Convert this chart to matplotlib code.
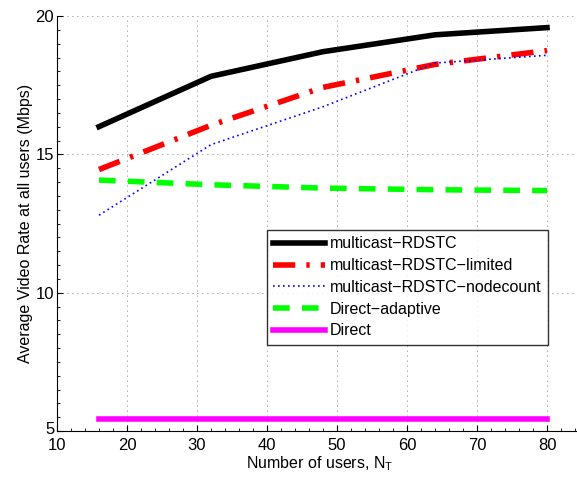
import numpy as np
import matplotlib.pyplot as plt
import matplotlib.transforms as mtransforms
from matplotlib.ticker import MultipleLocator

plt.rcParams['font.family'] = ['Liberation Sans', 'DejaVu Sans']
plt.rcParams['font.size'] = 12

# numero de usuarios
usuarios = [16, 32, 48, 64, 80]

multicast = [16.0, 17.82, 18.71, 19.32, 19.58]
multicastLimited = [14.45, 16.05, 17.42, 18.25, 18.75]
multicastNodecount = [12.8, 15.35, 16.72, 18.3, 18.58]
directAdaptive = [14.07, 13.9, 13.78, 13.72, 13.69]
direct = [5.44, 5.44, 5.44, 5.44, 5.44]

fig = plt.figure(figsize=(5.77, 4.78), dpi=100)
ax = fig.add_axes([57/577, 47/478, 525/577, 415/478])

ax.plot(usuarios, multicast, '-', color='black', lw=4, label='multicast\u2212RDSTC')
ax.plot(usuarios, multicastLimited, color='red', lw=4, dashes=(4, 2, 0.6, 2),
        label='multicast\u2212RDSTC\u2212limited')
ax.plot(usuarios, multicastNodecount, color='blue', lw=1.2, dashes=(1, 2),
        label='multicast\u2212RDSTC\u2212nodecount')
ax.plot(usuarios, directAdaptive, color='#00ff00', lw=4, dashes=(3, 2.2),
        label='Direct\u2212adaptive')
ax.plot(usuarios, direct, '-', color='magenta', lw=4, label='Direct')

ax.set_xlim(10, 85)
ax.set_ylim(5, 20)
ax.set_xticks(np.arange(10, 81, 10))
ax.set_yticks([5, 10, 15, 20])
ax.xaxis.set_minor_locator(MultipleLocator(2))
ax.yaxis.set_minor_locator(MultipleLocator(0.5))
ax.tick_params(which='both', direction='in', top=False, right=False)
ax.tick_params(which='major', length=4)
ax.tick_params(which='minor', length=2)
ax.tick_params(axis='x', pad=5)
ax.tick_params(axis='y', pad=2)
ax.grid(True, which='major', linestyle=(0, (1, 5)), color='#555555', lw=0.6)
ax.spines['top'].set_visible(False)
ax.spines['right'].set_visible(False)

# el 5 del eje y sube un poco para no pisar el 10
lbl5 = ax.get_yticklabels()[0]
lbl5.set_transform(lbl5.get_transform() +
                   mtransforms.ScaledTranslation(0, 3/100, fig.dpi_scale_trans))

ax.set_xlabel('Number of users, N$_\\mathregular{T}$', fontsize=11.5, labelpad=1)
ax.set_ylabel('Average Video Rate at all users (Mbps)', fontsize=11.5, labelpad=2)

leg = ax.legend(loc='upper left', bbox_to_anchor=(267/577, 1 - 230/478),
                bbox_transform=fig.transFigure, frameon=True, fancybox=False,
                edgecolor='black', handlelength=3.2, borderaxespad=0,
                labelspacing=0.42, handletextpad=0.35, borderpad=0.4,
                fontsize=11.5)
leg.get_frame().set_linewidth(1.0)

fig.savefig('out.png', dpi=100)
